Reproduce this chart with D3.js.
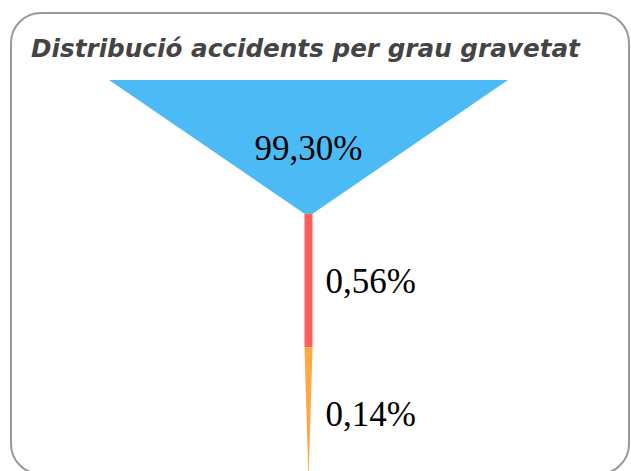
<!DOCTYPE html>
<html><head><meta charset="utf-8">
<script src="https://cdn.jsdelivr.net/npm/d3@7"></script>
<style>html,body{margin:0;padding:0;background:#fff;}svg{display:block;}</style>
</head><body>
<svg id="c" width="631" height="471"></svg>
<script>
const title = "Distribució accidents per grau gravetat";
const categories = ["Lleus", "Greus", "Mortals"];
const values = [99.30, 0.56, 0.14];
const labels = ["99,30%", "0,56%", "0,14%"];
const colors = ["#4CBAF4", "#FF5F5A", "#FFA744"];

const svg = d3.select("#c");
svg.append("rect").attr("x", 11).attr("y", 13).attr("width", 618).attr("height", 461)
  .attr("rx", 30).attr("ry", 30).attr("fill", "#fff").attr("stroke", "#999").attr("stroke-width", 2);

svg.append("text").attr("x", 31).attr("y", 57).text(title)
  .attr("font-family", "DejaVu Sans, Verdana, sans-serif").attr("font-weight", "bold")
  .attr("font-style", "italic").attr("font-size", 24.7).attr("fill", "#444");

const cx = 308.5, maxW = 399, minW = 8;
const y = d3.scaleBand().domain(categories).range([80, 481]).padding(0);
const w = d3.scaleLinear().domain([0, d3.max(values)]).range([0, maxW]);
const topW = values.map(v => Math.max(minW, w(v)));
const segs = categories.map((c, i) => ({
  c, v: values[i], label: labels[i], color: colors[i],
  y0: y(c), y1: y(c) + y.bandwidth(),
  w0: topW[i], w1: i < categories.length - 1 ? topW[i + 1] : 0
}));

svg.selectAll("path.seg").data(segs).join("path").attr("class", "seg")
  .attr("fill", d => d.color)
  .attr("d", d => `M${cx - d.w0 / 2},${d.y0}L${cx + d.w0 / 2},${d.y0}L${cx + d.w1 / 2},${d.y1}L${cx - d.w1 / 2},${d.y1}Z`);

svg.selectAll("text.lab").data(segs).join("text").attr("class", "lab")
  .attr("font-family", "Liberation Serif, serif").attr("font-size", 35).attr("fill", "#000")
  .attr("text-anchor", d => d.w0 > 100 ? "middle" : "start")
  .attr("x", d => d.w0 > 100 ? cx : cx + Math.max(d.w0, d.w1) / 2 + 13)
  .attr("y", (d, i) => (d.y0 + d.y1) / 2 + (i === 0 ? 13 : 12))
  .text(d => d.label);
</script>
</body></html>
